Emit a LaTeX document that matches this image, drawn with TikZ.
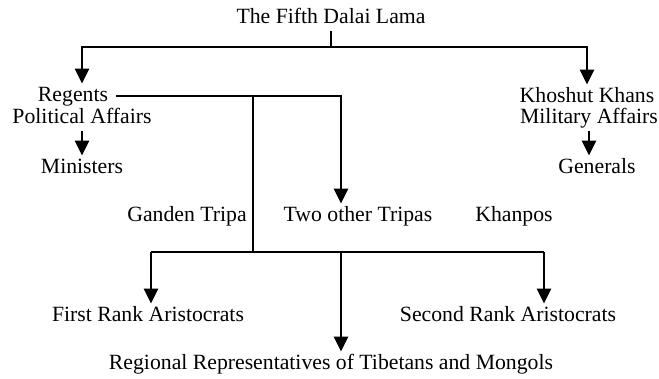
\documentclass[tikz,border=0pt]{standalone}
\usepackage{fontspec}
\setmainfont{Liberation Serif}
\usetikzlibrary{arrows.meta}

\begin{document}
\begin{tikzpicture}[x=0.75pt, y=-0.75pt,
    every node/.style={font=\fontsize{16.3}{19}\selectfont, inner sep=2pt, text height=11.5pt, text depth=3pt},
    link/.style={line width=1.9pt},
    arr/.style={link, -{Triangle[width=10.5pt, length=11pt]}}]
            \useasboundingbox (0,0) rectangle (659,378);
            % Nodes
            \node (title) at (331,18) {The Fifth Dalai Lama};

            \node (regents) at (73,96) {Regents};
            \node (polaff) at (82,118) {Political Affairs};
            \node (ministers) at (82,168) {Ministers};

            \node (khoshut) at (587,97) {Khoshut Khans};
            \node (milaff) at (589,118) {Military Affairs};
            \node (generals) at (597,168) {Generals};

            \node (ganden) at (187,216) {Ganden Tripa};
            \node (tripas) at (358,216) {Two other Tripas};
            \node (khanpos) at (514,216) {Khanpos};

            \node (firstrank) at (148,316) {First Rank Aristocrats};
            \node (secondrank) at (508,316) {Second Rank Aristocrats};
            \node (regional) at (331,364) {Regional Representatives of Tibetans and Mongols};

            % Junctions
            \coordinate (topsplit) at (331,47);
            \coordinate (tripdrop) at (341,96);
            \coordinate (lowsplit) at (253,252);
            \coordinate (firstdrop) at (151,252);
            \coordinate (middrop) at (341,252);
            \coordinate (seconddrop) at (544,252);

            % Connectors
            \draw[link] (title.south) -- (topsplit);
            \draw[arr] (topsplit) -| (polaff.north |- regents.north);
            \draw[arr] (topsplit) -| (khoshut.north);
            \draw[arr] (polaff.south) -- (ministers.north);
            \draw[arr] (milaff.south) -- (milaff.south |- generals.north);

            \draw[arr, shorten <=4pt] (regents.east) -| (tripdrop |- tripas.north);
            \draw[link] (regents.east -| lowsplit) -- (lowsplit);

            \draw[link] (firstdrop) -- (seconddrop);
            \draw[arr] (firstdrop) -- (firstdrop |- firstrank.north);
            \draw[arr] (middrop) -- (middrop |- regional.north);
            \draw[arr] (seconddrop) -- (seconddrop |- secondrank.north);
        \end{tikzpicture}
\end{document}
